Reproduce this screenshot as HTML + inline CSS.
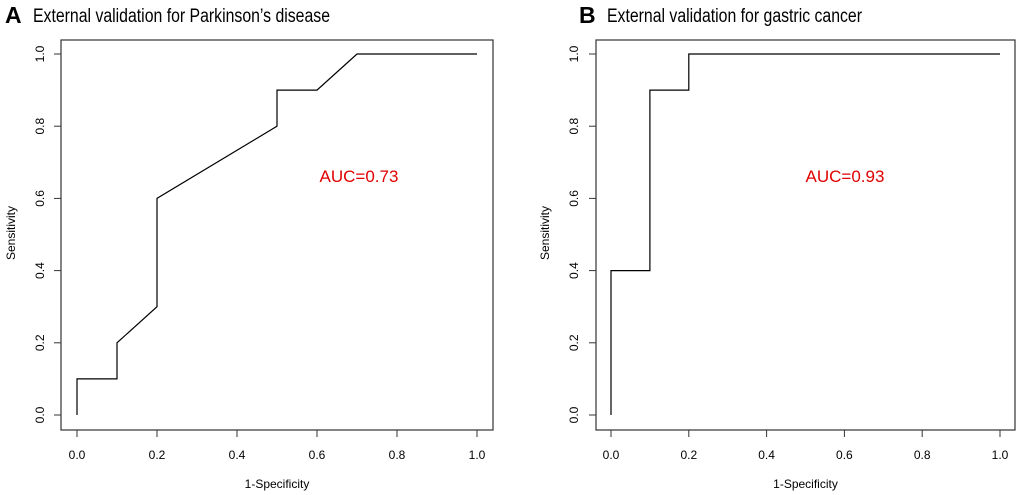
<!DOCTYPE html>
<html><head><meta charset="utf-8"><style>
html,body{margin:0;padding:0;background:#fff;}
svg{display:block;font-family:"Liberation Sans",Arial,sans-serif;}
</style></head><body>
<svg id="s" width="1020" height="495" viewBox="0 0 1020 495"></svg>
<script>
const ticks = [0, 0.2, 0.4, 0.6, 0.8, 1.0];
const tickLabels = ["0.0","0.2","0.4","0.6","0.8","1.0"];
const pdX = [0, 0, 0.1, 0.1, 0.2, 0.2, 0.5, 0.5, 0.6, 0.7, 1.0];
const pdY = [0, 0.1, 0.1, 0.2, 0.3, 0.6, 0.8, 0.9, 0.9, 1.0, 1.0];
const gcX = [0, 0, 0.1, 0.1, 0.2, 0.2, 1.0];
const gcY = [0, 0.4, 0.4, 0.9, 0.9, 1.0, 1.0];
const titles = ["External validation for Parkinson\u2019s  disease", "External validation for gastric cancer"];
const letters = ["A", "B"];
const aucs = ["AUC=0.73", "AUC=0.93"];

const svg = document.getElementById('s');
const NS = 'http://www.w3.org/2000/svg';
function mk(tag, attrs, parent){
  const e = document.createElementNS(NS, tag);
  for (const k in attrs) e.setAttribute(k, attrs[k]);
  (parent||svg).appendChild(e);
  return e;
}
const panels = [
  {x0:77, x1:477, bl:61, br:493, tX:40, yT:11, letterX:5, titleX:33, tEnd:330, aucX:359, xs:pdX, ys:pdY},
  {x0:611, x1:1000, bl:596, br:1015, tX:574, yT:545, letterX:579, titleX:607, tEnd:862, aucX:845, xs:gcX, ys:gcY}
];
const yb = 415, yt = 54, boxT = 40, boxB = 430;
panels.forEach((p, i) => {
  const g = mk('g', {});
  
  
  const sx = v => p.x0 + v * (p.x1 - p.x0);
  const sy = v => yb - v * (yb - yt);
  const box = mk('rect', {x:p.bl, y:boxT, width:p.br-p.bl, height:boxB-boxT, fill:'none', stroke:'#333', 'stroke-width':1.2}, g);
  
  
  ticks.forEach((t, j) => {
    mk('line', {x1:sx(t), x2:sx(t), y1:boxB, y2:boxB+7, stroke:'#333'}, g);
    const xl = mk('text', {x:sx(t), y:459, 'font-size':12, 'text-anchor':'middle', fill:'#000'}, g);
    xl.textContent = tickLabels[j];
    
    
    mk('line', {x1:p.bl-7, x2:p.bl, y1:sy(t), y2:sy(t), stroke:'#333'}, g);
    const yl = mk('text', {x:0, y:0, 'font-size':12, 'text-anchor':'middle', fill:'#000', transform:'translate(' + (p.tX+4) + ',' + sy(t) + ') rotate(-90)'}, g);
    yl.textContent = tickLabels[j];
    
    
  });
  const xt = mk('text', {x:(p.x0+p.x1)/2, y:488, 'font-size':12, 'text-anchor':'middle'}, g);
  xt.textContent = '1-Specificity';
  
  
  const yti = mk('text', {x:0, y:0, 'font-size':12, 'text-anchor':'middle', transform:'translate(' + (p.yT+4) + ',233) rotate(-90)'}, g);
  yti.textContent = 'Sensitivity';
  
  
  const pts = p.xs.map((v, k) => sx(v) + ',' + sy(p.ys[k])).join(' ');
  const line = mk('polyline', {points:pts, fill:'none', stroke:'#000', 'stroke-width':1.2}, g);
  
  
  const a = mk('text', {x:p.aucX, y:182, 'font-size':17, 'text-anchor':'middle', fill:'#e00000'}, g);
  a.textContent = aucs[i];
  
  
  const L = mk('text', {x:p.letterX, y:23, 'font-size':23, 'font-weight':'bold'}, g);
  L.textContent = letters[i];
  
  
  const T = mk('text', {x:p.titleX, y:22, 'font-size':19, textLength:p.tEnd-p.titleX, lengthAdjust:'spacingAndGlyphs'}, g);
  T.textContent = titles[i];
  
  
});
</script>
</body></html>
